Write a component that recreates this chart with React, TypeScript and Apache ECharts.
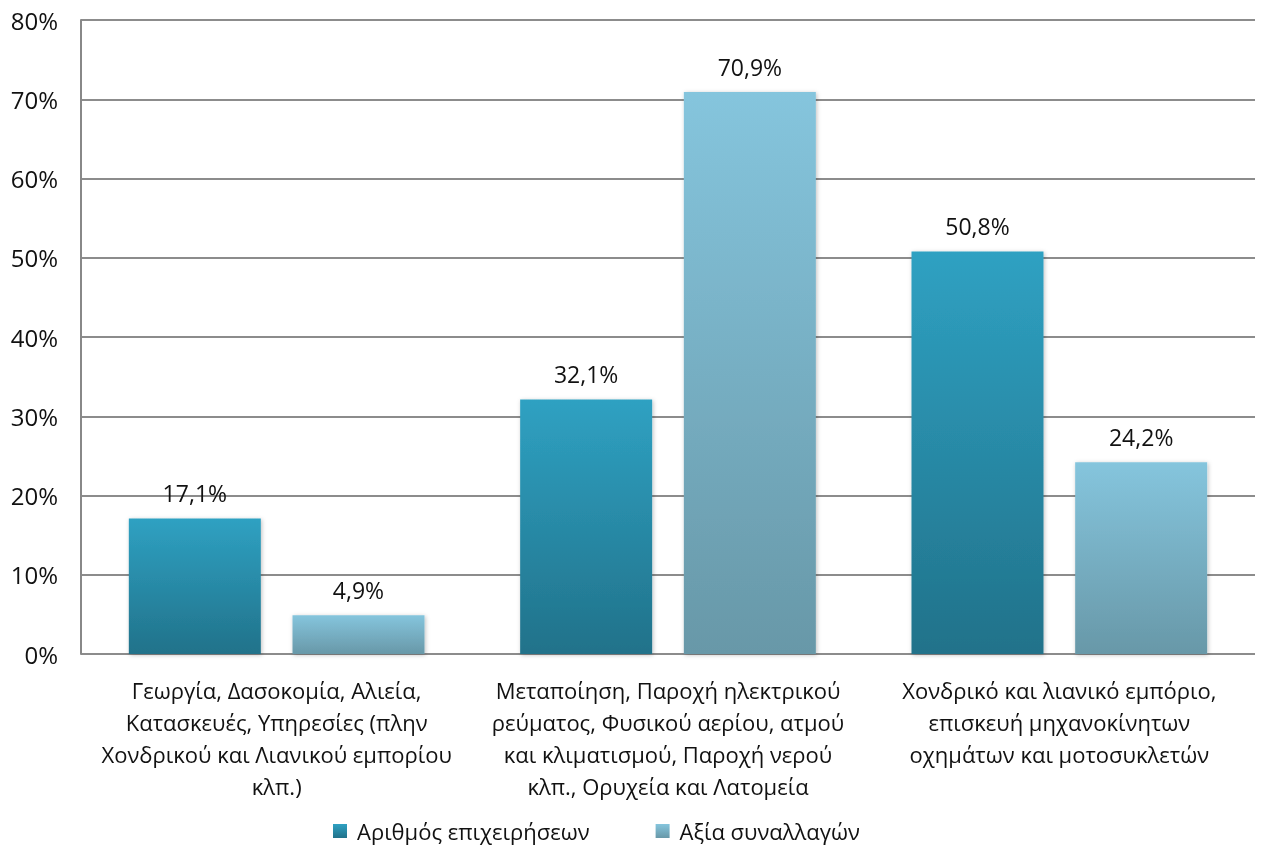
import React, { useEffect, useRef } from "react";
import * as echarts from "echarts";

const categories = [
  "Γεωργία, Δασοκομία, Αλιεία,\nΚατασκευές, Υπηρεσίες (πλην\nΧονδρικού και Λιανικού εμπορίου\nκλπ.)",
  "Μεταποίηση, Παροχή ηλεκτρικού\nρεύματος, Φυσικού αερίου, ατμού\nκαι κλιματισμού, Παροχή νερού\nκλπ., Ορυχεία και Λατομεία",
  "Χονδρικό και λιανικό εμπόριο,\nεπισκευή μηχανοκίνητων\nοχημάτων και μοτοσυκλετών",
];
const seriesNames = ["Αριθμός επιχειρήσεων", "Αξία συναλλαγών"];
const businesses = [17.1, 32.1, 50.8];
const transactions = [4.9, 70.9, 24.2];
const yTicks = [0, 10, 20, 30, 40, 50, 60, 70, 80];

const font = "'Open Sans', 'Noto Sans', sans-serif";

export default function App() {
  const ref = useRef<HTMLDivElement>(null);
  useEffect(() => {
    if (!ref.current) return;
    const chart = echarts.init(ref.current, undefined, { renderer: "svg" });
    const grad = (a: string, b: string) =>
      new echarts.graphic.LinearGradient(0, 0, 0, 1, [
        { offset: 0, color: a },
        { offset: 1, color: b },
      ]);
    const fmt = (p: any) => String(p.value).replace(".", ",") + "%";
    const label = {
      show: true,
      position: "top" as const,
      distance: 14,
      formatter: fmt,
      fontFamily: font,
      fontSize: 23,
      color: "#111",
    };
    chart.setOption({
      animation: false,
      textStyle: { fontFamily: font },
      grid: { left: 81, right: 6, top: 20, bottom: 192 },
      legend: {
        top: 819,
        left: 333,
        padding: 0,
        itemWidth: 14,
        itemHeight: 14,
        itemGap: 66,
        icon: "rect",
        textStyle: {
          fontFamily: font,
          fontSize: 22,
          lineHeight: 24,
          color: "#111",
          padding: [0, 0, 0, 5],
        },
        data: seriesNames,
      },
      xAxis: {
        type: "category",
        data: categories,
        axisTick: { show: false },
        axisLine: { show: false },
        axisLabel: {
          fontFamily: font,
          fontSize: 22,
          lineHeight: 32,
          color: "#111",
          margin: 20,
          interval: 0,
        },
      },
      yAxis: {
        type: "value",
        min: 0,
        max: 80,
        interval: 10,
        axisLine: { show: true, lineStyle: { color: "#888", width: 2 } },
        axisTick: { show: false },
        splitLine: { lineStyle: { color: "#8c8c8c", width: 2 } },
        axisLabel: {
          formatter: (v: number) => (yTicks.includes(v) ? v + "%" : ""),
          fontFamily: font,
          fontSize: 24,
          color: "#111",
          margin: 23,
        },
      },
      series: [
        {
          name: seriesNames[0],
          type: "bar",
          data: businesses,
          barWidth: 132,
          barGap: "24%",
          itemStyle: {
            color: grad("#2fa1c2", "#21728a"),
            shadowColor: "rgba(0,0,0,0.25)",
            shadowBlur: 4,
            shadowOffsetX: 1,
            shadowOffsetY: 1,
          },
          label,
        },
        {
          name: seriesNames[1],
          type: "bar",
          data: transactions,
          barWidth: 132,
          itemStyle: {
            color: grad("#85c5dd", "#6898a8"),
            shadowColor: "rgba(0,0,0,0.25)",
            shadowBlur: 4,
            shadowOffsetX: 1,
            shadowOffsetY: 1,
          },
          label,
        },
      ],
    });
    return () => chart.dispose();
  }, []);
  return (
    <div
      ref={ref}
      style={{ position: "fixed", left: 0, top: 0, width: 1261, height: 846 }}
    />
  );
}
